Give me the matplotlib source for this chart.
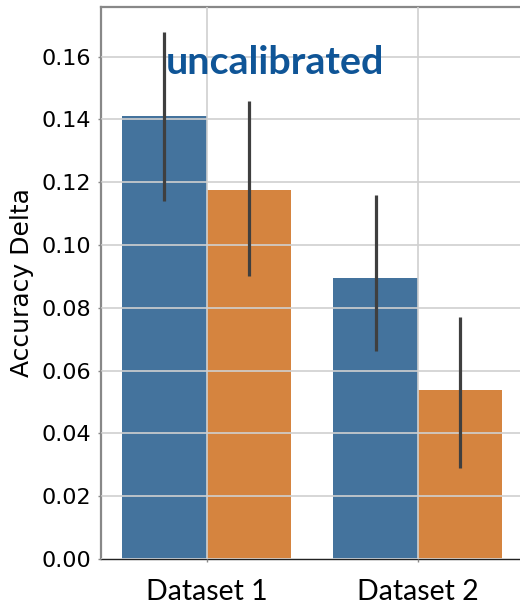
import matplotlib
matplotlib.use("Agg")
import matplotlib.pyplot as plt
import numpy as np

categories = ["Dataset 1", "Dataset 2"]
series_names = ["A", "B"]
means_a = [0.1410, 0.0895]
means_b = [0.1174, 0.0539]
lo_a = [0.1140, 0.0664]
hi_a = [0.1678, 0.1160]
lo_b = [0.0902, 0.0291]
hi_b = [0.1460, 0.0770]
yticks = [0.00, 0.02, 0.04, 0.06, 0.08, 0.10, 0.12, 0.14, 0.16]
title_text = "uncalibrated"
ylabel_text = "Accuracy Delta"

colors = ["#44739d", "#d5843f"]

fig = plt.figure(figsize=(5.2, 6.05), dpi=100)
W, H = 520, 605
left, right, top, bottom = 101, 523.5, 7, 559
ax = fig.add_axes([left / W, (H - bottom) / H, (right - left) / W, (bottom - top) / H])

x = np.arange(len(categories))
w = 0.4
series = [(means_a, lo_a, hi_a), (means_b, lo_b, hi_b)]
for i, (m, lo, hi) in enumerate(series):
    xs = x - 0.2 + i * w
    ax.bar(xs, m, width=w, color=colors[i], zorder=1, linewidth=0)
    for xx, l, h in zip(xs, lo, hi):
        ax.plot([xx, xx], [l, h], color="#3f3f3f", linewidth=2.3, zorder=3,
                solid_capstyle="butt")

ax.set_xlim(-0.5, 1.5)
ax.set_ylim(0, 0.1758)
ax.set_yticks(yticks)
ax.set_yticklabels([f"{v:.2f}" for v in yticks], fontsize=16, family="DejaVu Sans")
ax.set_xticks(x)
ax.set_xticklabels(categories, fontsize=20.5, family="Lato", va="baseline")
ax.tick_params(axis="x", pad=27.0, length=2.5, color="#888888", width=1)
ax.tick_params(axis="y", pad=4.5, length=2.5, color="#888888", width=1)
ax.set_ylabel(ylabel_text, fontsize=18, labelpad=5.5)

ax.set_axisbelow(False)
ax.grid(True, color="#d0d0d0", linewidth=1.2, zorder=2)

for s in ["left", "top", "right"]:
    ax.spines[s].set_color("#888888")
    ax.spines[s].set_linewidth(1.6)
ax.spines["bottom"].set_color("#222222")
ax.spines["bottom"].set_linewidth(1.0)

ax.text(0.3246, 0.1545, title_text, transform=ax.transData,
        fontsize=28.4, fontweight="bold", family="Lato", color="#0f5597",
        ha="center", va="baseline", zorder=4)

fig.savefig("out.png", dpi=100)
